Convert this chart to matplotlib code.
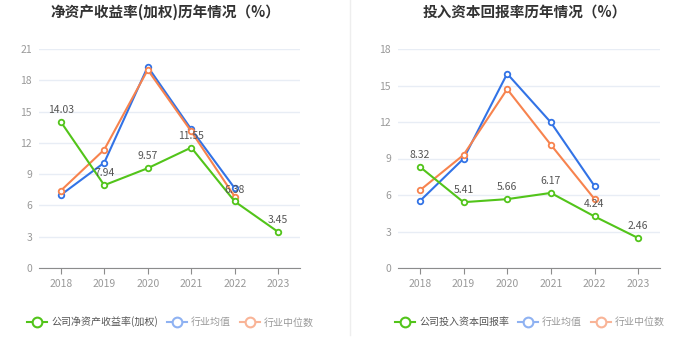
import matplotlib
matplotlib.use("Agg")
import matplotlib.pyplot as plt
from matplotlib.lines import Line2D

plt.rcParams["font.family"] = ["Noto Sans CJK SC", "DejaVu Sans"]

# data
years = ["2018", "2019", "2020", "2021", "2022", "2023"]

roe_company = [14.03, 7.94, 9.57, 11.55, 6.38, 3.45]
roe_avg = [7.0, 10.1, 19.3, 13.3, 7.64]
roe_median = [7.41, 11.35, 19.0, 13.1, 6.84]

roic_company = [8.32, 5.41, 5.66, 6.17, 4.24, 2.46]
roic_avg = [5.5, 8.98, 15.97, 11.97, 6.74]
roic_median = [6.38, 9.29, 14.7, 10.13, 5.67]

GREEN = "#52c41a"
BLUE = "#3273e6"
ORANGE = "#f7834e"

W, H = 699, 359
fig = plt.figure(figsize=(W / 100, H / 100), dpi=100)


def px_axes(x0, x1, ytop, ybot):
    return fig.add_axes([x0 / W, (H - ybot) / H, (x1 - x0) / W, (ybot - ytop) / H])


def draw_panel(ax, title, title_x, comp, avg, med, ymax, label, legend_x):
    x = list(range(len(years)))
    ax.plot(x[:len(avg)], avg, color=BLUE, lw=1.5, marker="o", ms=4,
            mfc="white", mec=BLUE, mew=1.3, zorder=3)
    ax.plot(x[:len(med)], med, color=ORANGE, lw=1.5, marker="o", ms=4,
            mfc="white", mec=ORANGE, mew=1.3, zorder=3)
    ax.plot(x, comp, color=GREEN, lw=1.5, marker="o", ms=4,
            mfc="white", mec=GREEN, mew=1.3, zorder=4)
    for xi, v in zip(x, comp):
        ax.annotate(f"{v:.2f}", (xi, v), xytext=(0, 5), textcoords="offset points",
                    ha="center", va="bottom", fontsize=7.5, color="#555555", zorder=5)

    ax.set_xlim(-0.5, len(years) - 0.5)
    ax.set_ylim(0, ymax)
    ax.set_yticks(range(0, ymax + 1, 3))
    ax.set_xticks(x)
    ax.set_xticklabels(years)
    ax.tick_params(axis="y", length=0, labelsize=7.5, labelcolor="#999999", pad=5)
    ax.tick_params(axis="x", length=4, color="#8c8c8c", labelsize=7.5,
                   labelcolor="#999999", pad=4)
    ax.grid(axis="y", color="#e8edf5", lw=1)
    ax.set_axisbelow(True)
    for s in ["top", "right", "left"]:
        ax.spines[s].set_visible(False)
    ax.spines["bottom"].set_color("#8c8c8c")
    fig.text(title_x / W, (H - 12) / H, title, fontsize=10.5, fontweight="bold",
             color="#333333", ha="center", va="center")

    handles = [
        Line2D([], [], color=GREEN, lw=1.5, marker="o", ms=7, mfc="white", mec=GREEN, mew=1.5),
        Line2D([], [], color="#8fb2f2", lw=1.5, marker="o", ms=7, mfc="white", mec="#8fb2f2", mew=1.5),
        Line2D([], [], color="#f9b497", lw=1.5, marker="o", ms=7, mfc="white", mec="#f9b497", mew=1.5),
    ]
    leg = fig.legend(handles, [label, "行业均值", "行业中位数"], loc="center left",
                     bbox_to_anchor=(legend_x / W, (H - 322) / H), ncol=3, frameon=False,
                     fontsize=7.2, handlelength=2.0, columnspacing=0.9, handletextpad=0.4,
                     borderpad=0, borderaxespad=0)
    cols = ["#555555", "#999999", "#999999"]
    for t, c in zip(leg.get_texts(), cols):
        t.set_color(c)


ax1 = px_axes(39, 300, 49, 268)
draw_panel(ax1, "净资产收益率(加权)历年情况（%）", 165, roe_company, roe_avg, roe_median,
           21, "公司净资产收益率(加权)", 27)

ax2 = px_axes(398, 660, 49, 268)
draw_panel(ax2, "投入资本回报率历年情况（%）", 525, roic_company, roic_avg, roic_median,
           18, "公司投入资本回报率", 395)

# separator between panels
fig.add_artist(Line2D([350 / W, 350 / W], [(H - 335) / H, 1], color="#eeeeee", lw=1))

fig.savefig("out.png", dpi=100)
